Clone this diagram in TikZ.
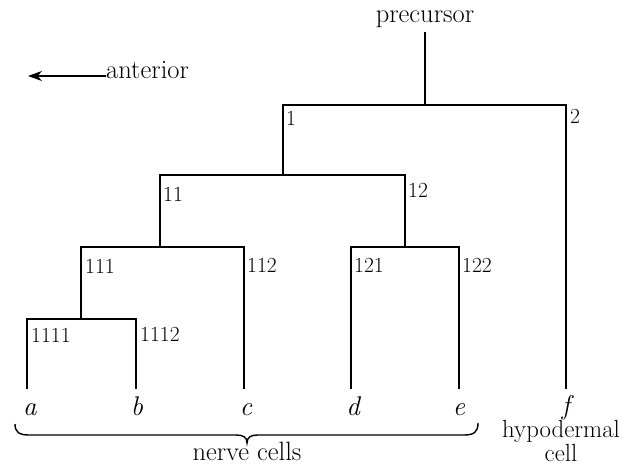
\documentclass[tikz,border=0pt]{standalone}
\usetikzlibrary{arrows.meta}
\begin{document}
\begin{tikzpicture}[x=1pt,y=-1pt,
  lineage/.style={line width=1.8pt, line join=miter},
  bracket/.style={line width=1.4pt},
  cellno/.style={anchor=base west, inner sep=0pt, font=\fontsize{21.5}{25}\selectfont},
  leaf/.style={anchor=base, inner sep=0pt, font=\fontsize{27}{30}\selectfont\itshape},
  caption/.style={inner sep=0pt, font=\fontsize{26.5}{21}\selectfont, align=center}]
\useasboundingbox (0,0) rectangle (626,465);

% direction marker
\node[caption, anchor=mid west] (anterior) at (106,76) {anterior};
\coordinate (front) at (28,76);
\draw[line width=1.6pt, -{Stealth[length=14pt,width=10pt]}] (anterior.mid west) -- (front);

% precursor and the points where each cell starts and divides
\node[caption, anchor=base, outer sep=4pt] (precursor) at (425,23) {precursor};
\coordinate (root) at (425,105);
\coordinate (c1) at (283,105);   \coordinate (d1) at (283,175);
\coordinate (c2) at (566,105);
\coordinate (c11) at (160,175);  \coordinate (d11) at (160,247);
\coordinate (c12) at (405,175);  \coordinate (d12) at (405,247);
\coordinate (c111) at (81,247);  \coordinate (d111) at (81,319);
\coordinate (c112) at (244,247);
\coordinate (c121) at (351,247);
\coordinate (c122) at (459,247);
\coordinate (c1111) at (27,319);
\coordinate (c1112) at (136,319);

% lower ends of the terminal branches
\coordinate (ea) at (27,389);
\coordinate (eb) at (136,389);
\coordinate (ec) at (244,389);
\coordinate (ed) at (351,389);
\coordinate (ee) at (459,389);
\coordinate (ef) at (566,389);

% lineage tree
\draw[lineage] (precursor.south) -- (root);
\draw[lineage] (d1) -- (c1) -- (c2) -- (ef);
\draw[lineage] (d11) -- (c11) -- (c12) -- (d12);
\draw[lineage] (d111) -- (c111) -- (c112) -- (ec);
\draw[lineage] (ed) -- (c121) -- (c122) -- (ee);
\draw[lineage] (ea) -- (c1111) -- (c1112) -- (eb);

% cell numbers
\node[cellno] (n1) at (286,126) {1};
\node[cellno] (n2) at (570,124) {2};
\node[cellno] (n11) at (163,201) {11};
\node[cellno] (n12) at (408,197) {12};
\node[cellno] (n111) at (85,273) {111};
\node[cellno] (n112) at (247,272) {112};
\node[cellno] (n121) at (354,272) {121};
\node[cellno] (n122) at (462,272) {122};
\node[cellno] (n1111) at (31,342) {1111};
\node[cellno] (n1112) at (140,341) {1112};

% final cells
\node[leaf] (a) at (30,415) {a};
\node[leaf] (b) at (137,415) {b};
\node[leaf] (c) at (246,415) {c};
\node[leaf] (d) at (353,415) {d};
\node[leaf] (e) at (459,415) {e};
\node[leaf] (f) at (566,414) {f};

% grouping of the nerve cells
\coordinate (brL) at (15,424);
\coordinate (brR) at (478,423);
\coordinate (brT) at (247,443);
\draw[bracket] (brL) .. controls (15,432) and (19,435) .. (29,435)
  -- (236,435) .. controls (243,435) and (247,437) .. (brT)
  .. controls (247,437) and (251,435) .. (258,435)
  -- (464,435) .. controls (474,435) and (478,432) .. (brR);
\node[caption, anchor=base] (nerve) at (247,460) {nerve cells};
\node[caption, anchor=north, font=\fontsize{24.8}{19.5}\selectfont] (hypo) at (561,420.5) {hypodermal\\cell};
\end{tikzpicture}
\end{document}
